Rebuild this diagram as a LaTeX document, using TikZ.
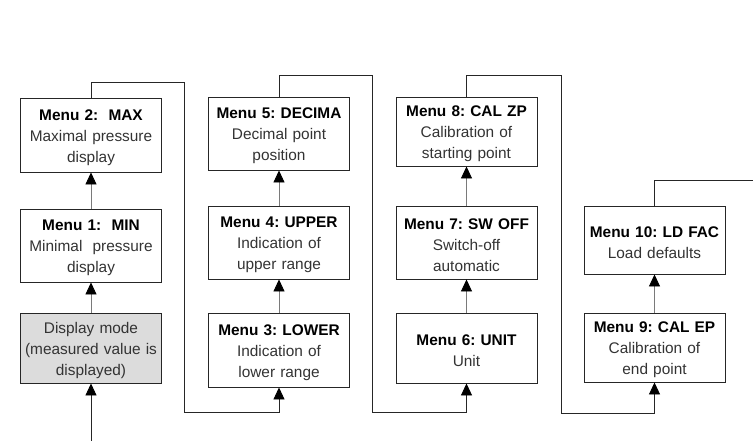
\documentclass[tikz,border=0pt]{standalone}
\usepackage{fontspec}
\setmainfont{Liberation Sans}
\usetikzlibrary{arrows.meta}
\definecolor{txt}{HTML}{333333}
\definecolor{conn}{HTML}{7A7A7A}
\definecolor{shade}{HTML}{DCDCDC}
\newcommand{\mttl}[1]{{\bfseries\color{black}#1}}
\frenchspacing
\begin{document}
\begin{tikzpicture}[x=1pt,y=-1pt,
  box/.style={draw=black!85, line width=0.9pt, minimum width=141pt, text width=138pt,
    align=center, inner sep=0pt, font=\fontsize{15.4}{21}\selectfont\frenchspacing, text=txt,
    execute at begin node={\rule{0pt}{16pt}}},
  tip/.style={-{Triangle[width=11pt,length=12pt,color=black]}},
  upconn/.style={tip, draw=conn, line width=0.8pt},
  loopline/.style={tip, draw=black!85, line width=0.9pt},
]
\useasboundingbox (0,0) rectangle (753,441);
% column 1
\node[box, minimum height=70pt, fill=shade] (d) at (91,348) {Display mode\\(measured value is\\displayed)};
\node[box, minimum height=73pt] (m1) at (91,245.5) {\mttl{Menu 1:\ \ MIN}\\Minimal\ \ pressure\\display};
\node[box, minimum height=74pt] (m2) at (91,135) {\mttl{Menu 2:\ \ MAX}\\Maximal pressure\\display};
% column 2
\node[box, minimum height=74pt] (m3) at (279,350) {\mttl{Menu 3: LOWER}\\Indication of\\lower range};
\node[box, minimum height=73pt] (m4) at (279,242.5) {\mttl{Menu 4: UPPER}\\Indication of\\upper range};
\node[box, minimum height=73pt] (m5) at (279,133.5) {\mttl{Menu 5: DECIMA}\\Decimal point\\position};
% column 3
\node[box, minimum height=70pt] (m6) at (466.5,348) {\mttl{Menu 6: UNIT}\\Unit};
\node[box, minimum height=73pt] (m7) at (466.5,242.5) {\mttl{Menu 7: SW OFF}\\Switch-off\\automatic};
\node[box, minimum height=69pt] (m8) at (466.5,131.5) {\mttl{Menu 8: CAL ZP}\\Calibration of\\starting point};
% column 4
\node[box, minimum height=69pt] (m9) at (654.5,347.5) {\mttl{Menu 9: CAL EP}\\Calibration of\\end point};
\node[box, minimum height=68pt] (m10) at (654.5,240) {\mttl{Menu 10: LD FAC}\\Load defaults};
% coordinates
\coordinate (in) at (91,441);
\coordinate (l1t) at (184,82);
\coordinate (l1b) at (184,412);
\coordinate (l2t) at (372,75);
\coordinate (l2b) at (372,412);
\coordinate (l3t) at (561,75);
\coordinate (l3b) at (561,413);
\coordinate (out) at (753,180);
% connectors
\draw[loopline] (in) -- (d.south);
\draw[upconn] (d.north) -- (m1.south);
\draw[upconn] (m1.north) -- (m2.south);
\draw[loopline] (m2.north) |- (l1t) -- (l1b) -| (m3.south);
\draw[upconn] (m3.north) -- (m4.south);
\draw[upconn] (m4.north) -- (m5.south);
\draw[loopline] (m5.north) |- (l2t) -- (l2b) -| (m6.south);
\draw[upconn] (m6.north) -- (m7.south);
\draw[upconn] (m7.north) -- (m8.south);
\draw[loopline] (m8.north) |- (l3t) -- (l3b) -| (m9.south);
\draw[upconn] (m9.north) -- (m10.south);
\draw[draw=black!85, line width=0.9pt] (m10.north) |- (out);
\end{tikzpicture}
\end{document}
